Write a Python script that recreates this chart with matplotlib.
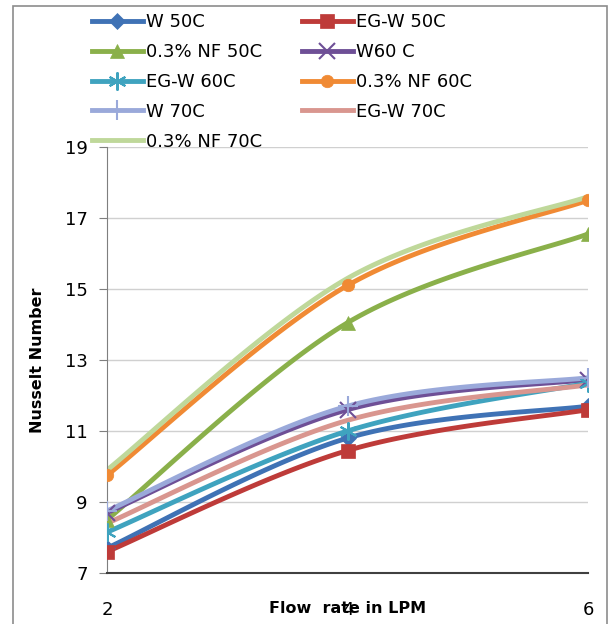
import numpy as np
from matplotlib import pyplot as plt
from matplotlib.patches import Rectangle


# flow rate (LPM) and Nusselt numbers
flow = [2, 4, 6]

w_50 = [7.7, 10.8, 11.7]
egw_50 = [7.6, 10.45, 11.6]
nf_50 = [8.5, 14.05, 16.55]
w_60 = [8.7, 11.6, 12.45]
egw_60 = [8.15, 11.0, 12.35]
nf_60 = [9.75, 15.1, 17.5]
w_70 = [8.75, 11.7, 12.5]
egw_70 = [8.4, 11.3, 12.3]
nf_70 = [9.9, 15.3, 17.6]

labels = ['W 50C', 'EG-W 50C', '0.3% NF 50C', 'W60 C', 'EG-W 60C',
          '0.3% NF 60C', 'W 70C', 'EG-W 70C', '0.3% NF 70C']
series = [w_50, egw_50, nf_50, w_60, egw_60, nf_60, w_70, egw_70, nf_70]

colors = ['#3F72B5', '#BE3B39', '#8AB04A', '#6E4F96', '#3FA3BF',
          '#F08A34', '#9AA9DA', '#D9968F', '#BFD89A']
markers = ['D', 's', '^', 'x', (6, 2, 0), 'o', '+', None, None]
msizes = [8, 10, 10, 12, 13, 9, 14, 0, 0]


def smooth(x, y, n=40):
    '''excel style smoothed line, end points doubled as phantoms'''
    x = np.asarray(x, float)
    y = np.asarray(y, float)
    px = np.concatenate(([x[0]], x, [x[-1]]))
    py = np.concatenate(([y[0]], y, [y[-1]]))
    xs, ys = [], []
    t = np.linspace(0, 1, n)
    for i in range(1, len(px) - 2):
        for p, out in ((px, xs), (py, ys)):
            p0, p1, p2, p3 = p[i - 1], p[i], p[i + 1], p[i + 2]
            c1 = p1 + (p2 - p0) / 6.
            c2 = p2 - (p3 - p1) / 6.
            out.extend((1 - t) ** 3 * p1 + 3 * (1 - t) ** 2 * t * c1
                       + 3 * (1 - t) * t ** 2 * c2 + t ** 3 * p2)
    return xs, ys


fig = plt.figure(figsize=(6.1, 6.24), dpi=100)
ax = fig.add_axes([107 / 610, 1 - 573 / 624, 481 / 610, 426 / 624])

# outer chart border
fig.patches.append(Rectangle((13 / 610, -0.05), 594 / 610, 1.05 - 6 / 624,
                             transform=fig.transFigure, fill=False,
                             edgecolor='#8c8c8c', lw=1.2))

handles = []
for y, lab, c, m, ms in zip(series, labels, colors, markers, msizes):
    sx, sy = smooth(flow, y)
    ax.plot(sx, sy, color=c, lw=3.5, solid_capstyle='round', zorder=2)
    mew = 1.5 if m in ('x', '+', (6, 2, 0)) else 0.5
    ax.plot(flow, y, ls='none', marker=m, ms=ms, color=c, mec=c, mew=mew,
            zorder=3)
    # legend proxy
    h, = ax.plot([], [], color=c, lw=3.5, marker=m, ms=ms, mec=c, mew=mew,
                 label=lab)
    handles.append(h)

ax.set_xlim(2, 6)
ax.set_ylim(7, 19)
ax.set_yticks([7, 9, 11, 13, 15, 17, 19])
ax.set_xticks([2, 4, 6])
ax.grid(axis='y', color='#d0d0d0', lw=1)
ax.set_axisbelow(True)

for s in ['top', 'right']:
    ax.spines[s].set_visible(False)
ax.spines['left'].set_color('#7f7f7f')
ax.spines['bottom'].set_color('#404040')
ax.spines['bottom'].set_linewidth(1.5)
ax.tick_params(axis='y', length=6, color='#7f7f7f', labelsize=13, pad=8)
ax.tick_params(axis='x', length=0, labelsize=13, pad=20)

ax.set_ylabel('Nusselt Number', fontsize=11.5, fontweight='bold', labelpad=14)
ax.set_xlabel('Flow  rate in LPM', fontsize=11.5, fontweight='bold',
              labelpad=-13)

# excel fills the legend row by row
order = [0, 2, 4, 6, 8, 1, 3, 5, 7]
fig.legend([handles[i] for i in order], [labels[i] for i in order],
           loc='upper left', bbox_to_anchor=(83 / 610, 1 - 4 / 624), ncol=2,
           frameon=False, fontsize=13, handlelength=2.8, handletextpad=0.2,
           columnspacing=2.2, labelspacing=0.66, borderpad=0)

plt.savefig('out.png', dpi=100)
